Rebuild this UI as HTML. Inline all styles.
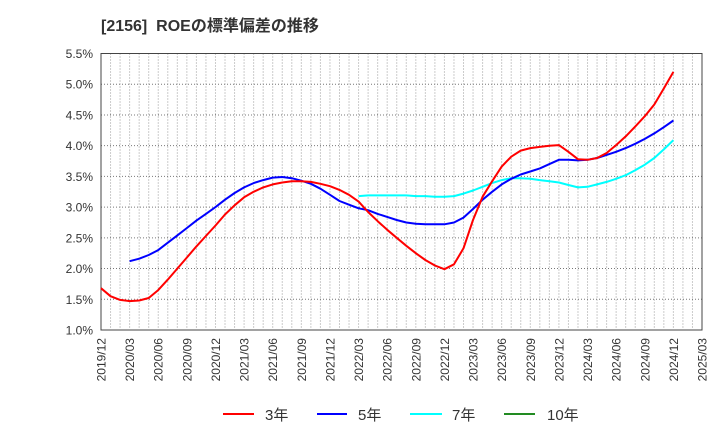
<!DOCTYPE html>
<html><head><meta charset="utf-8"><style>
body{margin:0;background:#fff;}
svg text{font-family:"Liberation Sans","Noto Sans CJK JP",sans-serif;fill:#333;}
</style></head><body>
<svg id="chart" width="720" height="440" xmlns="http://www.w3.org/2000/svg">
<text x="101" y="31" font-size="16" font-weight="bold" style="white-space:pre">[2156]&#160;&#160;ROEの標準偏差の推移</text>
<g id="grid"></g><g id="axes"></g><g id="series"></g>
<g>
<g><line x1="223" y1="414" x2="254" y2="414" stroke="#ff0000" stroke-width="2"/><text x="265" y="420" font-size="15">3年</text></g>
<g><line x1="317" y1="414" x2="347" y2="414" stroke="#0000ff" stroke-width="2"/><text x="358" y="420" font-size="15">5年</text></g>
<g><line x1="410" y1="414" x2="442" y2="414" stroke="#00ffff" stroke-width="2"/><text x="452" y="420" font-size="15">7年</text></g>
<g><line x1="504" y1="414" x2="535" y2="414" stroke="#228b22" stroke-width="2"/><text x="547" y="420" font-size="15">10年</text></g>
</g>
</svg>
<script>
const yTicks=[1.0,1.5,2.0,2.5,3.0,3.5,4.0,4.5,5.0,5.5];
const xTickLabels=["2019/12","2020/03","2020/06","2020/09","2020/12","2021/03","2021/06","2021/09","2021/12","2022/03","2022/06","2022/09","2022/12","2023/03","2023/06","2023/09","2023/12","2024/03","2024/06","2024/09","2024/12","2025/03"];
// monthly values starting 2019/12
const red3y=[1.68,1.55,1.49,1.47,1.48,1.52,1.65,1.82,2.00,2.18,2.36,2.53,2.70,2.88,3.03,3.16,3.25,3.32,3.37,3.40,3.42,3.42,3.41,3.38,3.34,3.28,3.20,3.09,2.92,2.77,2.63,2.50,2.37,2.25,2.14,2.05,1.99,2.07,2.33,2.79,3.17,3.42,3.66,3.82,3.92,3.96,3.98,4.00,4.01,3.90,3.78,3.77,3.80,3.88,4.01,4.15,4.31,4.48,4.67,4.93,5.20];
// starting 2020/03
const blue5y=[2.12,2.16,2.22,2.30,2.42,2.54,2.66,2.78,2.89,3.00,3.12,3.23,3.32,3.39,3.44,3.48,3.49,3.47,3.43,3.38,3.30,3.20,3.10,3.04,2.98,2.95,2.89,2.84,2.79,2.75,2.73,2.72,2.72,2.72,2.75,2.83,2.97,3.12,3.25,3.37,3.46,3.53,3.58,3.63,3.70,3.77,3.77,3.76,3.77,3.80,3.85,3.90,3.96,4.03,4.11,4.20,4.30,4.41];
// starting 2022/03
const cyan7y=[3.18,3.19,3.19,3.19,3.19,3.19,3.18,3.18,3.17,3.17,3.18,3.22,3.27,3.33,3.39,3.44,3.47,3.47,3.46,3.44,3.42,3.40,3.36,3.32,3.33,3.37,3.41,3.46,3.52,3.60,3.69,3.80,3.94,4.09];
const red3yStart=0, blue5yStart=3, cyan7yStart=27;
const X0=101,X1=702,Y0=330,Y1=53.5,NM=63;
const xs=m=>X0+(X1-X0)*m/NM;
const ys=v=>Y0-(Y0-Y1)*(v-1.0)/4.5;
const NS="http://www.w3.org/2000/svg";
function mk(t,a,p){const e=document.createElementNS(NS,t);for(const k in a)e.setAttribute(k,a[k]);p.appendChild(e);return e;}
const grid=document.getElementById('grid'),axes=document.getElementById('axes'),ser=document.getElementById('series');
for(let m=1;m<NM;m++){const l=mk('line',{x1:xs(m),y1:Y1,x2:xs(m),y2:Y0,stroke:'#999','stroke-width':1,'stroke-dasharray':'1,2'},grid);

}
yTicks.forEach(v=>{const l=mk('line',{x1:X0,y1:ys(v),x2:X1,y2:ys(v),stroke:'#777','stroke-width':1,'stroke-dasharray':'1,2'},grid);


const t=mk('text',{x:93,y:ys(v)+4.5,'text-anchor':'end','font-size':12},axes);t.textContent=v.toFixed(1)+'%';

});
xTickLabels.forEach((s,i)=>{const x=xs(i*3);const t=mk('text',{x:0,y:0,'text-anchor':'end','font-size':12,transform:`translate(${x+4.5},338) rotate(-90)`},axes);t.textContent=s;

});
const fr=mk('rect',{x:X0,y:Y1,width:X1-X0,height:Y0-Y1,fill:'none',stroke:'#444','stroke-width':1},axes);


function line(arr,start,color,name){const pts=arr.map((v,i)=>xs(start+i).toFixed(1)+','+ys(v).toFixed(1)).join(' ');
const p=mk('polyline',{points:pts,fill:'none',stroke:color,'stroke-width':2,'stroke-linejoin':'round'},ser);

}
line(cyan7y,cyan7yStart,'#00ffff','series-7y');
line(blue5y,blue5yStart,'#0000ff','series-5y');
line(red3y,red3yStart,'#ff0000','series-3y');
</script>
</body></html>
